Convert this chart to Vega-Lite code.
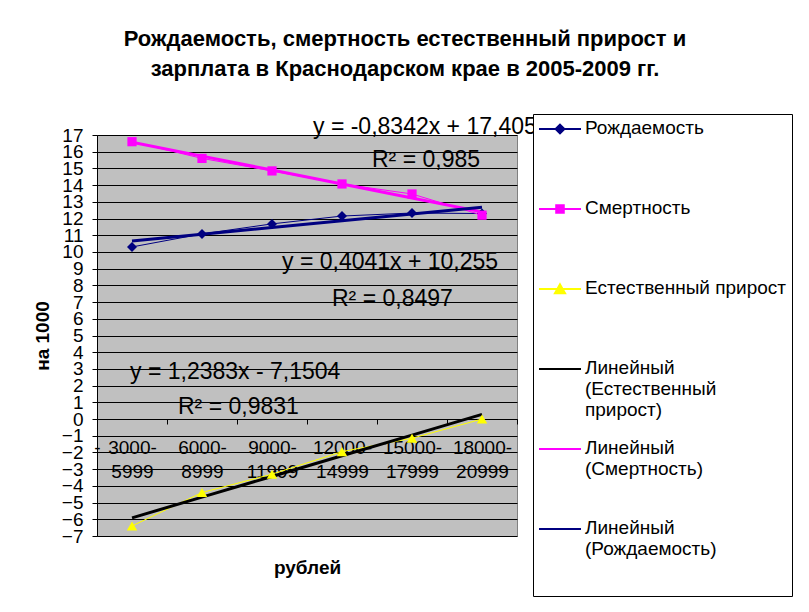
{
  "$schema": "https://vega.github.io/schema/vega-lite/v6.json",
  "width": 420,
  "height": 401,
  "autosize": {"type": "none"},
  "padding": {"left": 97, "top": 135, "right": 292, "bottom": 76},
  "background": "white",
  "config": {
    "view": {"fill": "#C0C0C0", "stroke": "#808080", "strokeWidth": 1},
    "font": "Liberation Sans",
    "axis": {"labelFont": "Liberation Sans", "titleFont": "Liberation Sans"},
    "legend": {"labelFont": "Liberation Sans"}
  },
  "title": {
    "text": ["Рождаемость, смертность естественный прирост и", "зарплата в Краснодарском крае в 2005-2009 гг."],
    "font": "Liberation Sans",
    "fontSize": 22,
    "fontWeight": "bold",
    "color": "black",
    "lineHeight": 30,
    "anchor": "middle",
    "frame": "group",
    "dx": 98,
    "offset": 33
  },
  "datasets": {
    "series": [
      {"cat": "3000-5999", "series": "Рождаемость", "value": 10.3},
      {"cat": "6000-8999", "series": "Рождаемость", "value": 11.08},
      {"cat": "9000-11999", "series": "Рождаемость", "value": 11.68},
      {"cat": "12000-14999", "series": "Рождаемость", "value": 12.15},
      {"cat": "15000-17999", "series": "Рождаемость", "value": 12.33},
      {"cat": "18000-20999", "series": "Рождаемость", "value": 12.3},
      {"cat": "3000-5999", "series": "Смертность", "value": 16.6},
      {"cat": "6000-8999", "series": "Смертность", "value": 15.6},
      {"cat": "9000-11999", "series": "Смертность", "value": 14.85},
      {"cat": "12000-14999", "series": "Смертность", "value": 14.07},
      {"cat": "15000-17999", "series": "Смертность", "value": 13.47},
      {"cat": "18000-20999", "series": "Смертность", "value": 12.2},
      {"cat": "3000-5999", "series": "Естественный прирост", "value": -6.4},
      {"cat": "6000-8999", "series": "Естественный прирост", "value": -4.4},
      {"cat": "9000-11999", "series": "Естественный прирост", "value": -3.3},
      {"cat": "12000-14999", "series": "Естественный прирост", "value": -1.95},
      {"cat": "15000-17999", "series": "Естественный прирост", "value": -1.15},
      {"cat": "18000-20999", "series": "Естественный прирост", "value": 0.0},
      {"cat": "3000-5999", "series": "Линейный (Естественный прирост)", "value": -5.912},
      {"cat": "6000-8999", "series": "Линейный (Естественный прирост)", "value": -4.674},
      {"cat": "9000-11999", "series": "Линейный (Естественный прирост)", "value": -3.436},
      {"cat": "12000-14999", "series": "Линейный (Естественный прирост)", "value": -2.197},
      {"cat": "15000-17999", "series": "Линейный (Естественный прирост)", "value": -0.959},
      {"cat": "18000-20999", "series": "Линейный (Естественный прирост)", "value": 0.279},
      {"cat": "3000-5999", "series": "Линейный (Смертность)", "value": 16.571},
      {"cat": "6000-8999", "series": "Линейный (Смертность)", "value": 15.737},
      {"cat": "9000-11999", "series": "Линейный (Смертность)", "value": 14.902},
      {"cat": "12000-14999", "series": "Линейный (Смертность)", "value": 14.068},
      {"cat": "15000-17999", "series": "Линейный (Смертность)", "value": 13.234},
      {"cat": "18000-20999", "series": "Линейный (Смертность)", "value": 12.4},
      {"cat": "3000-5999", "series": "Линейный (Рождаемость)", "value": 10.659},
      {"cat": "6000-8999", "series": "Линейный (Рождаемость)", "value": 11.063},
      {"cat": "9000-11999", "series": "Линейный (Рождаемость)", "value": 11.467},
      {"cat": "12000-14999", "series": "Линейный (Рождаемость)", "value": 11.871},
      {"cat": "15000-17999", "series": "Линейный (Рождаемость)", "value": 12.276},
      {"cat": "18000-20999", "series": "Линейный (Рождаемость)", "value": 12.68}
    ]
  },
  "data": {"name": "series"},
  "encoding": {
    "x": {
      "field": "cat",
      "type": "ordinal",
      "scale": {
        "type": "band",
        "domain": ["3000-5999", "6000-8999", "9000-11999", "12000-14999", "15000-17999", "18000-20999"],
        "paddingInner": 0,
        "paddingOuter": 0
      },
      "axis": {
        "orient": "bottom",
        "offset": -117,
        "title": "рублей",
        "titleFontSize": 19,
        "titleFontWeight": "bold",
        "titleColor": "black",
        "titleY": 148,
        "titleBaseline": "middle",
        "labelAngle": 0,
        "labelFontSize": 19,
        "labelColor": "black",
        "labelLineHeight": 24,
        "labelPadding": 14,
        "labelBaseline": "top",
        "labelExpr": "[split(datum.label, '-')[0] + '-', split(datum.label, '-')[1]]",
        "tickBand": "extent",
        "tickSize": 5,
        "tickColor": "black",
        "domainColor": "black",
        "grid": false
      }
    },
    "y": {
      "field": "value",
      "type": "quantitative",
      "scale": {"domain": [-7, 17], "nice": false, "zero": false},
      "axis": {
        "title": "на 1000",
        "titleFontSize": 19,
        "titleFontWeight": "bold",
        "titleColor": "black",
        "titleX": -55,
        "titleBaseline": "middle",
        "values": [-7, -6, -5, -4, -3, -2, -1, 0, 1, 2, 3, 4, 5, 6, 7, 8, 9, 10, 11, 12, 13, 14, 15, 16, 17],
        "labelOverlap": false,
        "labelFontSize": 19,
        "labelColor": "black",
        "labelPadding": 9,
        "tickSize": 5,
        "tickColor": "black",
        "domainColor": "black",
        "grid": true,
        "gridColor": "black",
        "gridWidth": 1,
        "gridOpacity": 1
      }
    }
  },
  "layer": [
    {
      "transform": [{"filter": "false"}],
      "mark": {"type": "point", "filled": true, "opacity": 1},
      "encoding": {
        "color": {
          "field": "series",
          "type": "nominal",
          "scale": {
            "domain": ["Рождаемость", "Смертность", "Естественный прирост", "Линейный (Естественный прирост)", "Линейный (Смертность)", "Линейный (Рождаемость)"],
            "range": ["#000080", "#FF00FF", "#FFFF00", "#000000", "#FF00FF", "#000080"]
          },
          "legend": {
            "title": null,
            "orient": "none",
            "legendX": 436,
            "legendY": -21,
            "fillColor": "white",
            "strokeColor": "black",
            "padding": 5,
            "symbolSize": 1764,
            "symbolStrokeWidth": 2,
            "labelFontSize": 19,
            "labelColor": "black",
            "labelOffset": 3,
            "labelLimit": 300,
            "labelLineHeight": 23,
            "labelBaseline": "top",
            "clipHeight": 72,
            "rowPadding": 8,
            "labelExpr": "datum.label == 'Линейный (Естественный прирост)' ? ['Линейный', '(Естественный', 'прирост)'] : datum.label == 'Линейный (Смертность)' ? ['Линейный', '(Смертность)'] : datum.label == 'Линейный (Рождаемость)' ? ['Линейный', '(Рождаемость)'] : datum.label",
            "encoding": {
              "symbols": {
                "y": {"value": 10}
              },
              "labels": {
                "y": {"value": 0}
              }
            }
          }
        },
        "shape": {
          "field": "series",
          "type": "nominal",
          "scale": {
            "domain": ["Рождаемость", "Смертность", "Естественный прирост", "Линейный (Естественный прирост)", "Линейный (Смертность)", "Линейный (Рождаемость)"],
            "range": [
              "M-1,0H1M0,-0.21L0.21,0L0,0.21L-0.21,0Z",
              "M-1,0H1M-0.18,-0.18H0.18V0.18H-0.18Z",
              "M-1,0H1M0,-0.22L0.24,0.2H-0.24Z",
              "M-1,0H1",
              "M-1,0H1",
              "M-1,0H1"
            ]
          }
        }
      }
    },
    {
      "transform": [{"filter": "indexof(datum.series, 'Линейный') != 0"}],
      "mark": {"type": "line", "strokeWidth": 1},
      "encoding": {
        "color": {"field": "series", "type": "nominal", "legend": null}
      }
    },
    {
      "transform": [{"filter": "indexof(datum.series, 'Линейный') == 0"}],
      "mark": {"type": "line", "strokeWidth": 3},
      "encoding": {
        "color": {"field": "series", "type": "nominal", "legend": null}
      }
    },
    {
      "transform": [{"filter": "datum.series == 'Рождаемость'"}],
      "mark": {"type": "point", "shape": "diamond", "filled": true, "size": 100, "opacity": 1},
      "encoding": {
        "color": {"field": "series", "type": "nominal", "legend": null}
      }
    },
    {
      "transform": [{"filter": "datum.series == 'Смертность'"}],
      "mark": {"type": "point", "shape": "square", "filled": true, "size": 85, "opacity": 1},
      "encoding": {
        "color": {"field": "series", "type": "nominal", "legend": null}
      }
    },
    {
      "transform": [{"filter": "datum.series == 'Естественный прирост'"}],
      "mark": {"type": "point", "shape": "triangle-up", "filled": true, "size": 110, "opacity": 1},
      "encoding": {
        "color": {"field": "series", "type": "nominal", "legend": null}
      }
    },
    {
      "data": {"values": [{"cat": "12000-14999", "value": 17.5, "label": "y = -0,8342x + 17,405"}]},
      "mark": {"type": "text", "align": "left", "baseline": "middle", "fontSize": 23, "dx": -29, "color": "black", "font": "Liberation Sans"},
      "encoding": {"text": {"field": "label"}}
    },
    {
      "data": {"values": [{"cat": "15000-17999", "value": 15.48, "label": "R² = 0,985"}]},
      "mark": {"type": "text", "align": "left", "baseline": "middle", "fontSize": 23, "dx": -40, "color": "black", "font": "Liberation Sans"},
      "encoding": {"text": {"field": "label"}}
    },
    {
      "data": {"values": [{"cat": "9000-11999", "value": 9.37, "label": "y = 0,4041x + 10,255"}]},
      "mark": {"type": "text", "align": "left", "baseline": "middle", "fontSize": 23, "dx": 10, "color": "black", "font": "Liberation Sans"},
      "encoding": {"text": {"field": "label"}}
    },
    {
      "data": {"values": [{"cat": "12000-14999", "value": 7.16, "label": "R² = 0,8497"}]},
      "mark": {"type": "text", "align": "left", "baseline": "middle", "fontSize": 23, "dx": -10, "color": "black", "font": "Liberation Sans"},
      "encoding": {"text": {"field": "label"}}
    },
    {
      "data": {"values": [{"cat": "3000-5999", "value": 2.84, "label": "y = 1,2383x - 7,1504"}]},
      "mark": {"type": "text", "align": "left", "baseline": "middle", "fontSize": 23, "dx": -2, "color": "black", "font": "Liberation Sans"},
      "encoding": {"text": {"field": "label"}}
    },
    {
      "data": {"values": [{"cat": "6000-8999", "value": 0.72, "label": "R² = 0,9831"}]},
      "mark": {"type": "text", "align": "left", "baseline": "middle", "fontSize": 23, "dx": -24, "color": "black", "font": "Liberation Sans"},
      "encoding": {"text": {"field": "label"}}
    }
  ]
}
